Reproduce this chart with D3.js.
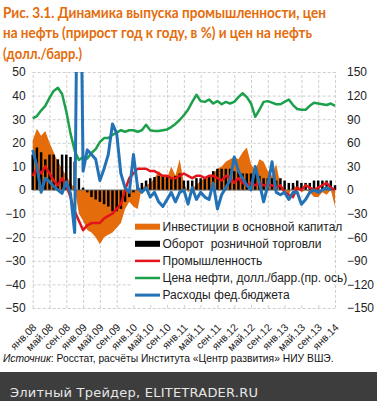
<!DOCTYPE html>
<html>
<head>
<meta charset="utf-8">
<script src="https://cdn.jsdelivr.net/npm/d3@7"></script>
<style>
body { margin: 0; background: #fff; }
svg { display: block; }
</style>
</head>
<body>
<div id="chart"></div>
<script>
// данные (прирост год к году, %; нефть - долл./барр.)
var month_names = ['янв.','фев.','мар.','апр.','май.','июн.','июл.','авг.','сен.','окт.','ноя.','дек.'];
var years = ['08','09','10','11','12','13','14'];

var investment = [21, 26, 23, 25, 20, 16, 12, 9, 6, 3, 1, -10,
                  -13, -17, -18, -20, -23, -20, -19, -18, -16, -14, -8, -5,
                  -7, -8, 1, 2, 3, 5, 8, 6, 5, 10, 6, 13,
                  3, -1, 1, 2, 4, 5, 5, 7, 9, 10, 12, 13,
                  14, 13, 16, 18, 11, 8, 13, 12, 8, 6, 11, 2,
                  0, -2, 2, 1, -1, 0, -1, -3, -3, -1, -2, 0,
                  -7];
var retail = [15, 18, 16, 13, 15, 15, 13, 15, 15, 14, 12, 5,
              1, -1, -3, -4, -5, -6, -7, -9, -9, -8, -5, -3,
              -1, 2, 3, 4, 5, 5.5, 6, 6, 6, 5, 6, 7,
              4, 4, 4, 5, 5, 5, 6, 8, 9, 9, 9, 9,
              8, 8, 7, 7, 7, 7, 6, 5, 5, 5, 4, 5,
              4, 3, 3, 4, 3, 3, 3, 4, 4, 4, 4, 4,
              2];
var industry = [6, 9, 7, 10, 7, 4, 2, 5, 2, -3, -9, -13,
                -17, -15, -14, -14, -14, -12, -11, -10, -8, -6, 0, 5,
                7, 9, 9, 9, 8, 8, 7, 6, 6, 5, 5, 6,
                7, 6, 5, 6, 6, 5, 6, 6, 5, 4, 6, 5,
                3, 5, 3, 2, 3, 2, 3, 2, 2, 2, 1, 2,
                -1, -2, -3, 1, 0, 2, 1, 0, 1, 2, 3, 1,
                0];
var oil = [91, 94, 101, 107, 117, 126, 130, 122, 100, 72, 50, 38,
           42, 40, 47, 52, 61, 66, 66, 70, 73, 76, 74, 76,
           76, 74, 76, 83, 76, 75, 75, 76, 77, 80, 84, 89,
           95, 102, 112, 121, 113, 112, 115, 110, 113, 109, 112, 110,
           112, 118, 123, 118, 110, 93, 102, 112, 113, 111, 109, 109,
           112, 115, 108, 103, 102, 102, 107, 111, 110, 109, 108, 110,
           107];
var budget = [17, 10, -1, 5, 3.5, 1.5, 0, -1.4, 3.5, -1.4, -18, 160,
              8, 17, 15, 13, 4, 9, 15, 28, 24, 7, 1, -1,
              15, 1, -1, 1, -3, -1, -5, -7, -4, -1, -5, -1,
              0, -6, 1, -4, -1, -3, -4, 3, -8, -2, 1, 4,
              14, 8, 5, 2, 0, 10, 3, -5, 2, 12, -1, -2,
              -1, -4, -1, -1, -6, -4, -1, 0, -1, 0, 1, 0,
              null];

var left_ticks = [50, 40, 30, 20, 10, 0, -10, -20, -30, -40, -50];
var right_ticks = [150, 120, 90, 60, 30, 0, -30, -60, -90, -120, -150];
var legend_names = ['Инвестиции в основной капитал', 'Оборот  розничной торговли', 'Промышленность',
                    'Цена нефти, долл./барр.(пр. ось)', 'Расходы фед.бюджета'];

var months = [];
for (var yr of years) for (var mn of month_names) months.push(mn + yr);
months = months.slice(0, oil.length);

var c_orange = '#e46c0a', c_red = '#e3151b', c_green = '#1ca04c', c_blue = '#2372b6';

var width = 377, height = 401;
var pl = 32.7, pr = 335, pt = 72, pb = 308;

var svg = d3.select('#chart').append('svg')
    .attr('width', width)
    .attr('height', height)
    .style('font-family', '"Liberation Sans", Arial, sans-serif');

// заголовок
var title = ['Рис. 3.1. Динамика выпуска промышленности, цен',
             'на нефть (прирост год к году, в %) и цен на нефть',
             '(долл./барр.)'];
var title_len = [323, 309, 79];
svg.append('g').selectAll('text').data(title)
    .enter().append('text')
    .attr('x', 3)
    .attr('y', function(d, i) { return 17.5 + i * 20.5; })
    .attr('textLength', function(d, i) { return title_len[i]; })
    .attr('lengthAdjust', 'spacingAndGlyphs')
    .style('font-family', 'Lato, "Open Sans", sans-serif')
    .style('font-weight', 'bold')
    .style('font-size', '14.5px')
    .style('fill', c_orange)
    .text(function(d) { return d; });

// шкалы
var x = d3.scalePoint().domain(months).range([pl, pr]);
var yL = d3.scaleLinear().domain([-50, 50]).range([pb, pt]);
var yR = d3.scaleLinear().domain([-150, 150]).range([pb, pt]);

// сетка и оси
var leftAxis = svg.append('g')
    .attr('transform', 'translate(' + pl + ',0)')
    .call(d3.axisLeft(yL).tickValues(left_ticks).tickSize(-(pr - pl)).tickPadding(7));
var rightAxis = svg.append('g')
    .attr('transform', 'translate(' + pr + ',0)')
    .call(d3.axisRight(yR).tickValues(right_ticks).tickSize(0).tickPadding(12));
var bottomAxis = svg.append('g')
    .attr('transform', 'translate(0,' + pb + ')')
    .call(d3.axisBottom(x)
        .tickValues(months.filter(function(d, i) { return i % 4 == 0; }))
        .tickSize(-(pb - pt)));

[leftAxis, rightAxis, bottomAxis].forEach(function(a) {
    a.select('.domain').remove();
    a.selectAll('line')
        .attr('stroke', '#cfcfcf')
        .attr('stroke-dasharray', '3,2');
    a.selectAll('text')
        .style('font-family', '"Liberation Sans", Arial, sans-serif')
        .style('font-size', '12px')
        .style('fill', '#222');
});
bottomAxis.selectAll('text')
    .attr('x', 0).attr('y', 0).attr('dy', 0)
    .attr('transform', 'translate(4,20) rotate(-45)')
    .style('text-anchor', 'end')
    .style('font-size', '10.5px');

// клип области построения
svg.append('clipPath').attr('id', 'plot-clip')
    .append('rect')
    .attr('x', pl - 4).attr('y', pt)
    .attr('width', pr - pl + 8).attr('height', pb - pt);

var plot = svg.append('g').attr('clip-path', 'url(#plot-clip)');

// инвестиции - область
var area = d3.area()
    .x(function(d, i) { return x(months[i]); })
    .y0(yL(0))
    .y1(function(d) { return yL(d); });
plot.append('path')
    .datum(investment)
    .attr('d', area)
    .style('fill', c_orange);

// розничная торговля - столбики
plot.selectAll('rect.bar').data(retail)
    .enter().append('rect')
    .attr('class', 'bar')
    .attr('x', function(d, i) { return x(months[i]) - 1.25; })
    .attr('y', function(d) { return yL(Math.max(0, d)); })
    .attr('width', 2.5)
    .attr('height', function(d) { return Math.abs(yL(d) - yL(0)); })
    .style('fill', '#000');

// нулевая линия
plot.append('line')
    .attr('x1', pl).attr('x2', pr)
    .attr('y1', yL(0)).attr('y2', yL(0))
    .attr('stroke', '#666')
    .attr('stroke-width', 1);

function drawLine(values, scale, color, w) {
    var line = d3.line()
        .defined(function(d) { return d !== null; })
        .x(function(d, i) { return x(months[i]); })
        .y(function(d) { return scale(d); });
    plot.append('path')
        .datum(values)
        .attr('d', line)
        .style('fill', 'none')
        .attr('stroke', color)
        .attr('stroke-width', w)
        .attr('stroke-linejoin', 'round');
}
drawLine(industry, yL, c_red, 2.5);
drawLine(oil, yR, c_green, 2.5);
drawLine(budget, yL, c_blue, 3);

// легенда
var legend = svg.append('g');
legend.append('rect')
    .attr('x', 131).attr('y', 217)
    .attr('width', 203).attr('height', 87)
    .style('fill', '#fff');
var legend_colors = [c_orange, '#000', c_red, c_green, c_blue];
var legend_h = [6, 6, 2.5, 2.5, 3];
var rows = legend.selectAll('g.row').data(legend_names)
    .enter().append('g')
    .attr('class', 'row')
    .attr('transform', function(d, i) { return 'translate(0,' + (226.7 + i * 17.1) + ')'; });
rows.append('rect')
    .attr('x', 135).attr('width', 25)
    .attr('y', function(d, i) { return -legend_h[i] / 2; })
    .attr('height', function(d, i) { return legend_h[i]; })
    .style('fill', function(d, i) { return legend_colors[i]; });
rows.append('text')
    .attr('x', 162.5).attr('dy', '0.35em')
    .style('font-size', '12px')
    .style('white-space', 'pre')
    .style('fill', '#222')
    .text(function(d) { return d; });

// источник
var src = svg.append('text')
    .attr('x', 3).attr('y', 362)
    .style('font-size', '10.3px')
    .style('fill', '#111');
src.append('tspan').style('font-style', 'italic').text('Источник');
src.append('tspan').text(': Росстат, расчёты Института «Центр развития» НИУ ВШЭ.');

// подвал
svg.append('rect')
    .attr('x', 0).attr('y', 372)
    .attr('width', width).attr('height', height - 372)
    .style('fill', '#3d3d3d');
svg.append('text')
    .attr('x', 10).attr('y', 397)
    .attr('textLength', 248)
    .attr('lengthAdjust', 'spacing')
    .style('font-family', '"DejaVu Sans", sans-serif')
    .style('font-size', '13px')
    .style('fill', '#e6e6e6')
    .text('Элитный Трейдер, ELITETRADER.RU');
</script>
</body>
</html>
